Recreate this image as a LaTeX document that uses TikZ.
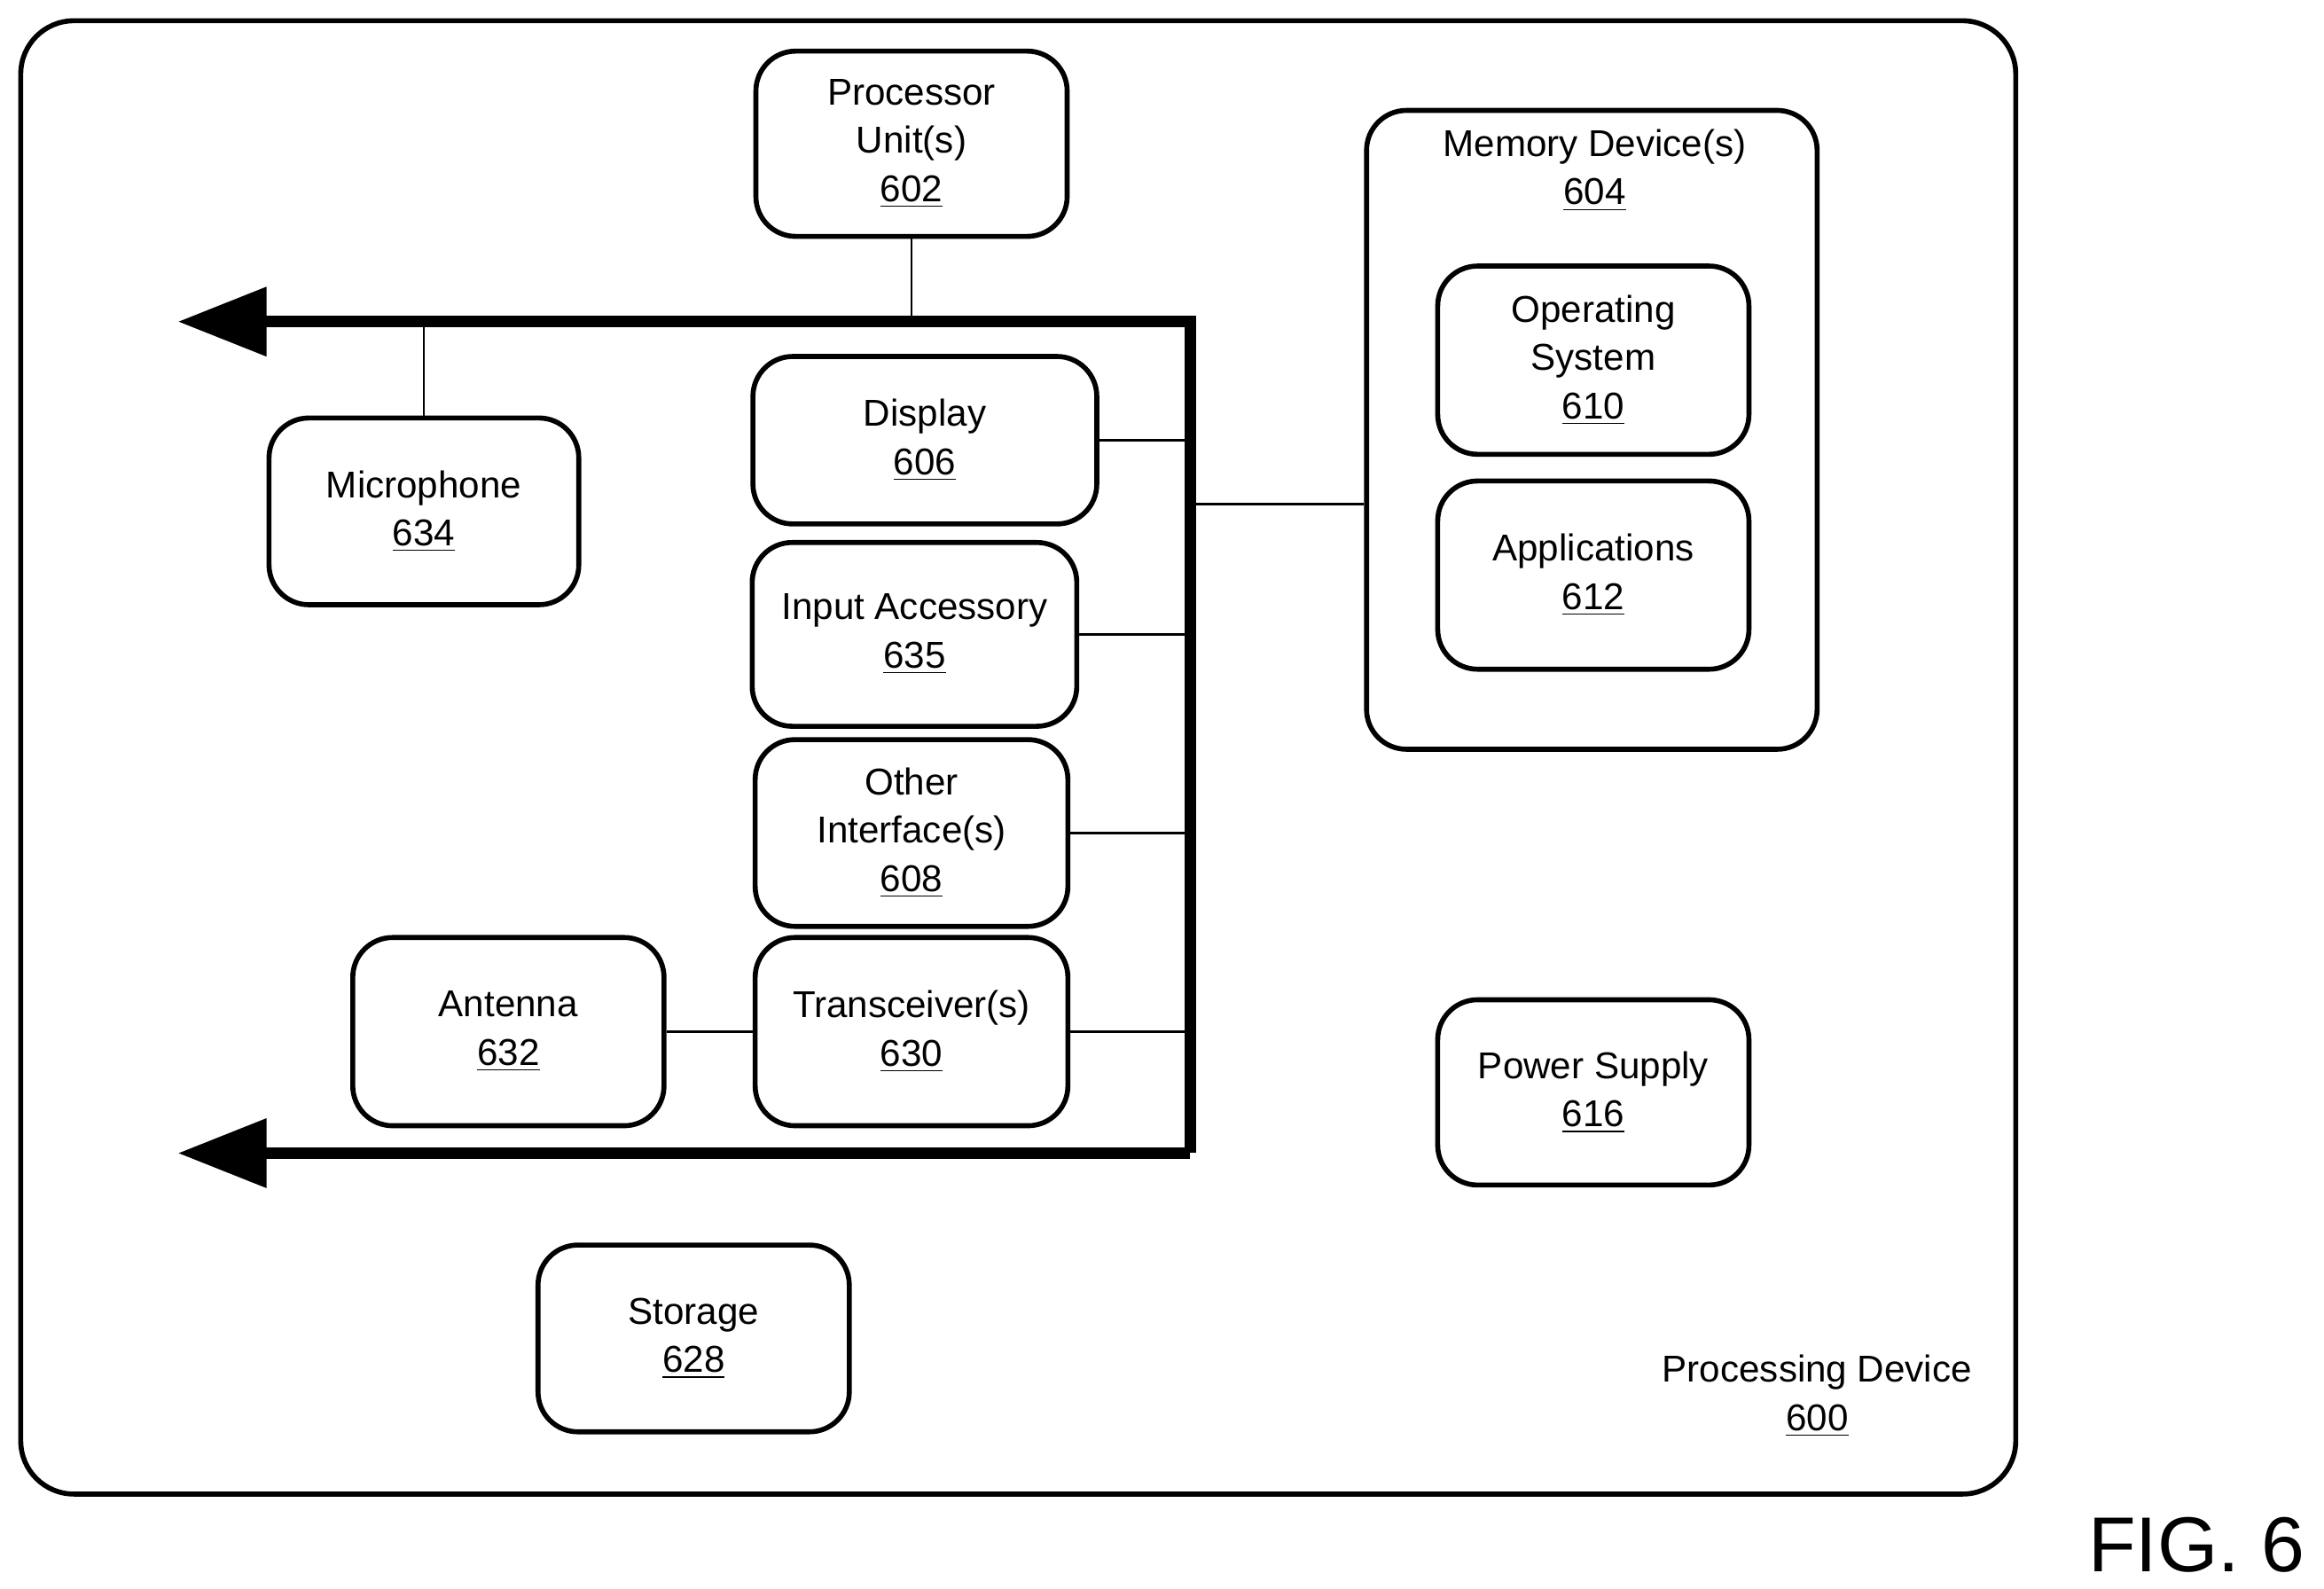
\documentclass[tikz,border=0pt]{standalone}
\usepackage{fontspec}
\setmainfont{Liberation Sans}
\usetikzlibrary{arrows.meta}
\tikzset{
  blk/.style={draw, line width=1.6pt, rounded corners=0.45cm, align=center,
    font=\fontsize{12}{15.5}\selectfont, inner sep=0pt},
  lnk/.style={line width=0.8pt},
  bus/.style={line width=3.8pt, -{Triangle[length=1cm,width=0.75cm]}}
}
\begin{document}
\begin{tikzpicture}[x=0.01672cm, y=-0.01672cm]
    \useasboundingbox (0,0) rectangle (1568,1072);
    % outer device
    \draw[line width=1.6pt, rounded corners=0.6cm] (14,14) rectangle (1360,1008);
    \node[align=center, font=\fontsize{12}{15.5}\selectfont] (dev) at (1226,942) {Processing Device\\\underline{600}};
    \node[font=\fontsize{25}{28}\selectfont] (fig) at (1482,1042) {FIG. 6};

    % blocks
    \node[blk, minimum width=210*0.01672cm, minimum height=125*0.01672cm] (proc) at (615,97) {Processor\\Unit(s)\\\underline{602}};
    \node[blk, minimum width=304*0.01672cm, minimum height=431*0.01672cm] (mem) at (1074,290) {};
    \node[align=center, font=\fontsize{12}{15.5}\selectfont] (memlbl) at (1076,115) {Memory Device(s)\\\underline{604}};
    \node[blk, minimum width=210*0.01672cm, minimum height=127*0.01672cm] (os) at (1075,243) {Operating\\System\\\underline{610}};
    \node[blk, minimum width=210*0.01672cm, minimum height=127*0.01672cm] (app) at (1075,388) {Applications\\\underline{612}};
    \node[blk, minimum width=209*0.01672cm, minimum height=126*0.01672cm] (mic) at (286,345) {Microphone\\\underline{634}};
    \node[blk, minimum width=232*0.01672cm, minimum height=113*0.01672cm] (disp) at (624,297) {Display\\\underline{606}};
    \node[blk, minimum width=219*0.01672cm, minimum height=124*0.01672cm] (inp) at (617,428) {Input Accessory\\\underline{635}};
    \node[blk, minimum width=211*0.01672cm, minimum height=126*0.01672cm] (oth) at (615,562) {Other\\Interface(s)\\\underline{608}};
    \node[blk, minimum width=211*0.01672cm, minimum height=127*0.01672cm] (trx) at (615,696) {Transceiver(s)\\\underline{630}};
    \node[blk, minimum width=210*0.01672cm, minimum height=127*0.01672cm] (ant) at (343,696) {Antenna\\\underline{632}};
    \node[blk, minimum width=210*0.01672cm, minimum height=125*0.01672cm] (pwr) at (1075,737) {Power Supply\\\underline{616}};
    \node[blk, minimum width=210*0.01672cm, minimum height=126*0.01672cm] (stor) at (468,903) {Storage\\\underline{628}};

    % bus
    \coordinate (busTR) at (803,217);
    \coordinate (busBR) at (803,778);
    \coordinate (busTL) at (120,217);
    \coordinate (busBL) at (120,778);
    \draw[bus] (busBR) -- (busTR) -- (busTL);
    \draw[bus] (busBR) -- (busBL);

    % links
    \draw[lnk] (proc.south) -- (proc.south |- busTR);
    \draw[lnk] (mic.north) -- (mic.north |- busTR);
    \draw[lnk] (disp.east) -- (disp.east -| busTR);
    \draw[lnk] (inp.east) -- (inp.east -| busTR);
    \draw[lnk] (oth.east) -- (oth.east -| busTR);
    \draw[lnk] (trx.east) -- (trx.east -| busTR);
    \draw[lnk] (ant.east) -- (trx.west);
    \draw[lnk] (busTR |- 0,340) -- (mem.west |- 0,340);
\end{tikzpicture}
\end{document}
